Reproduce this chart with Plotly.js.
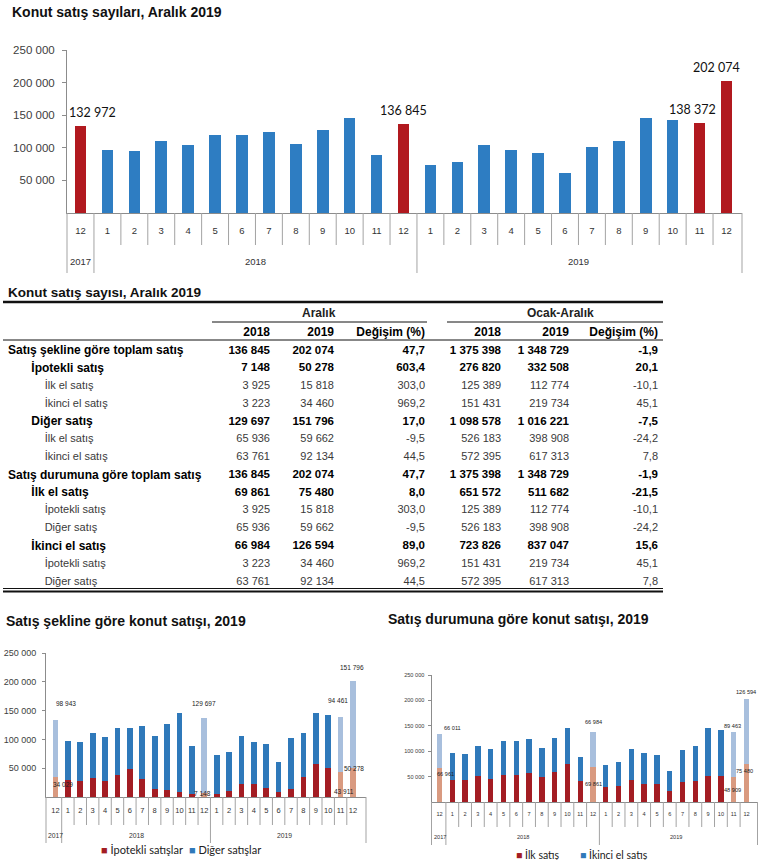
<!DOCTYPE html>
<html><head><meta charset="utf-8">
<script src="https://cdn.plot.ly/plotly-3.0.1.min.js"></script>
<style>html,body{margin:0;padding:0;background:#fff}</style>
</head><body><div id="chart" style="width:770px;height:860px"></div>
<script>
// ---------------- DATA ----------------
const periods = ['2017-12','2018-01','2018-02','2018-03','2018-04','2018-05','2018-06','2018-07','2018-08','2018-09','2018-10','2018-11','2018-12','2019-01','2019-02','2019-03','2019-04','2019-05','2019-06','2019-07','2019-08','2019-09','2019-10','2019-11','2019-12'];
const monthLabels = ['12','1','2','3','4','5','6','7','8','9','10','11','12','1','2','3','4','5','6','7','8','9','10','11','12'];
const totalSales = [132972, 96943, 95480, 110811, 103571, 120021, 119640, 123751, 105764, 126963, 146046, 89011, 136845, 73569, 78495, 105050, 96124, 92315, 61288, 101669, 110996, 146366, 142486, 138372, 202074];
const mortgagedSales = [34029, 28900, 27800, 33000, 27800, 37600, 49200, 31800, 13300, 11600, 8100, 5800, 7148, 5800, 9800, 23100, 23100, 15600, 8700, 14500, 34700, 57900, 50900, 43911, 50278];
const otherSales = [98943, 68043, 67680, 77811, 75771, 82421, 70440, 91951, 92464, 115363, 137946, 83211, 129697, 67769, 68695, 81950, 73024, 76715, 52588, 87169, 76296, 88466, 91586, 94461, 151796];
const firstHandSales = [66961, 42500, 42500, 50400, 45800, 53700, 53700, 56900, 49100, 58900, 74600, 40600, 69861, 29500, 32100, 43900, 36000, 35300, 22300, 39300, 41900, 51700, 50400, 48909, 75480];
const secondHandSales = [66011, 54443, 52980, 60411, 57771, 66321, 65940, 66851, 56664, 68063, 71446, 48411, 66984, 44069, 46395, 61150, 60124, 57015, 38988, 62369, 69096, 94666, 92086, 89463, 126594];
const highlightedPeriods = ['2017-12','2018-12','2019-11','2019-12'];
const yTickValues = [50000, 100000, 150000, 200000, 250000];

const tableRowLabels = ['Satış şekline göre toplam satış','İpotekli satış','İlk el satış','İkinci el satış','Diğer satış','İlk el satış','İkinci el satış','Satış durumuna göre toplam satış','İlk el satış','İpotekli satış','Diğer satış','İkinci el satış','İpotekli satış','Diğer satış'];
const dec2018 = [136845, 7148, 3925, 3223, 129697, 65936, 63761, 136845, 69861, 3925, 65936, 66984, 3223, 63761];
const dec2019 = [202074, 50278, 15818, 34460, 151796, 59662, 92134, 202074, 75480, 15818, 59662, 126594, 34460, 92134];
const decChange = [47.7, 603.4, 303.0, 969.2, 17.0, -9.5, 44.5, 47.7, 8.0, 303.0, -9.5, 89.0, 969.2, 44.5];
const ytd2018 = [1375398, 276820, 125389, 151431, 1098578, 526183, 572395, 1375398, 651572, 125389, 526183, 723826, 151431, 572395];
const ytd2019 = [1348729, 332508, 112774, 219734, 1016221, 398908, 617313, 1348729, 511682, 112774, 398908, 837047, 219734, 617313];
const ytdChange = [-1.9, 20.1, -10.1, 45.1, -7.5, -24.2, 7.8, -1.9, -21.5, -10.1, -24.2, 15.6, 45.1, 7.8];
const tableColumnHeaders = ['', '2018', '2019', 'Değişim (%)', '2018', '2019', 'Değişim (%)'];
const tableGroupHeaders = ['Aralık', 'Ocak-Aralık'];

const titles = {
  top: 'Konut satış sayıları, Aralık 2019',
  table: 'Konut satış sayısı, Aralık 2019',
  left: 'Satış şekline göre konut satışı, 2019',
  right: 'Satış durumuna göre konut satışı, 2019'
};
const legendNames = {mortgaged: 'İpotekli satışlar', other: 'Diğer satışlar', first: 'İlk satış', second: 'İkinci el satış'};

// ---------------- STYLE ----------------
const rowLevel = [0,1,2,2,1,2,2,0,1,2,2,1,2,2];
const W = 770, H = 860;
const X = p => p / W, Y = p => 1 - p / H;
const FONT = 'Liberation Sans, Arial, sans-serif';
const LFONT = 'Lato, Calibri, sans-serif';
const RED = '#B1191F', BLUE = '#2E7DC2';
const RED2 = '#A31D23', BLUE2 = '#2F79BA', SALMON = '#D99A80', LBLUE = '#A8BFDD';
const SEP = '#a3a3a3';
const NB = '\u00a0';

const fmtInt = n => String(n).replace(/\B(?=(\d{3})+(?!\d))/g, NB);
const fmtPct = v => v.toFixed(1).replace('.', ',');
const years = periods.map(p => p.slice(0, 4));

const shapes = [];
const annotations = [];

function separators(xref, axisPx, monthEndPx, yearEndPx) {
  const n = periods.length;
  for (let b = 0; b <= n; b++) {
    const isYear = b === 0 || b === n || years[b] !== years[b - 1];
    const edge = b === 0 || b === n;
    shapes.push({type: 'line', xref: edge ? xref + ' domain' : xref, yref: 'paper',
      x0: edge ? (b === 0 ? 0 : 1) : b - 0.5, x1: edge ? (b === 0 ? 0 : 1) : b - 0.5,
      y0: Y(axisPx), y1: Y(isYear ? yearEndPx : monthEndPx), line: {color: SEP, width: 1}});
  }
}
function yearLabels(xref, yPx, size) {
  [...new Set(years)].forEach(yr => {
    const idx = years.map((y, i) => y === yr ? i : -1).filter(i => i >= 0);
    annotations.push({xref, yref: 'paper', x: (idx[0] + idx[idx.length - 1]) / 2, y: Y(yPx),
      text: yr, showarrow: false, yanchor: 'middle', font: {family: FONT, size, color: '#333'}});
  });
}
function textAnn(text, xPx, yPx, size, opts) {
  annotations.push(Object.assign({xref: 'paper', yref: 'paper', x: X(xPx), y: Y(yPx), text, showarrow: false,
    xanchor: 'left', yanchor: 'middle', font: {family: FONT, size, color: '#111', weight: 'bold'}}, opts || {}));
}

// ---------------- TOP CHART ----------------
const traces = [];
traces.push({type: 'bar', x: periods, y: totalSales, xaxis: 'x', yaxis: 'y', width: 0.43,
  marker: {color: periods.map(p => highlightedPeriods.includes(p) ? RED : BLUE)}, hoverinfo: 'x+y'});
separators('x', 213, 245, 273);
yearLabels('x', 262, 9.5);
const topShift = {'2017-12': 12, '2018-12': 0, '2019-11': -7, '2019-12': -10};
highlightedPeriods.forEach(p => {
  const i = periods.indexOf(p);
  annotations.push({xref: 'x', yref: 'y', x: p, y: totalSales[i], text: fmtInt(totalSales[i]), showarrow: false,
    yanchor: 'middle', yshift: 13.5, xshift: topShift[p], font: {family: LFONT, size: 12.5, color: '#111'}});
});

// ---------------- BOTTOM LEFT ----------------
traces.push({type: 'bar', name: legendNames.mortgaged, x: periods, y: mortgagedSales, xaxis: 'x2', yaxis: 'y2', width: 0.46,
  marker: {color: periods.map(p => highlightedPeriods.includes(p) ? SALMON : RED2)}, showlegend: false});
traces.push({type: 'bar', name: legendNames.other, x: periods, y: otherSales, xaxis: 'x2', yaxis: 'y2', width: 0.46,
  marker: {color: periods.map(p => highlightedPeriods.includes(p) ? LBLUE : BLUE2)}, showlegend: false});
separators('x2', 797, 825, 843);
yearLabels('x2', 835, 6.8);
const leftUpper = {'2017-12': [10.6, 17.4], '2018-12': [0, 14.2], '2019-11': [-3, 17.3], '2019-12': [-1, 13.6]};
const leftLower = {'2017-12': [7.6, -6.6], '2018-12': [-2, -1], '2019-11': [3, -19.3], '2019-12': [1, 0]};

// ---------------- BOTTOM RIGHT ----------------
traces.push({type: 'bar', name: legendNames.first, x: periods, y: firstHandSales, xaxis: 'x3', yaxis: 'y3', width: 0.42,
  marker: {color: periods.map(p => highlightedPeriods.includes(p) ? SALMON : RED2)}, showlegend: false});
traces.push({type: 'bar', name: legendNames.second, x: periods, y: secondHandSales, xaxis: 'x3', yaxis: 'y3', width: 0.42,
  marker: {color: periods.map(p => highlightedPeriods.includes(p) ? LBLUE : BLUE2)}, showlegend: false});
separators('x3', 802, 827, 845);
yearLabels('x3', 837, 5.6);
const rightUpper = {'2017-12': [13, 6.5], '2018-12': [0, 10.5], '2019-11': [-1.5, 5.7], '2019-12': [-1, 7.3]};
const rightLower = {'2017-12': [5.5, -6], '2018-12': [0, -17.5], '2019-11': [-1.5, -12.8], '2019-12': [-2.5, -7.3]};

function stackLabels(xref, yref, lower, upper, upShift, lowShift, size) {
  highlightedPeriods.forEach(p => {
    const i = periods.indexOf(p);
    annotations.push({xref, yref, x: p, y: lower[i] + upper[i], text: fmtInt(upper[i]), showarrow: false,
      yanchor: 'middle', xshift: upShift[p][0], yshift: upShift[p][1], font: {family: FONT, size, color: '#222'}});
    annotations.push({xref, yref, x: p, y: lower[i], text: fmtInt(lower[i]), showarrow: false,
      yanchor: 'middle', xshift: lowShift[p][0], yshift: lowShift[p][1], font: {family: FONT, size, color: '#222'}});
  });
}
stackLabels('x2', 'y2', mortgagedSales, otherSales, leftUpper, leftLower, 6.5);
stackLabels('x3', 'y3', firstHandSales, secondHandSales, rightUpper, rightLower, 5.6);

// legends (as annotations)
const sq = c => '<span style="color:' + c + '">■</span>';
textAnn(sq(RED2) + ' ' + legendNames.mortgaged, 99, 849, 11, {font: {family: LFONT, size: 11, color: '#222'}});
textAnn(sq(BLUE2) + ' ' + legendNames.other, 187, 849, 11, {font: {family: LFONT, size: 11, color: '#222'}});
textAnn(sq(RED2) + ' ' + legendNames.first, 514, 854, 10.5, {font: {family: LFONT, size: 10.5, color: '#222'}});
textAnn(sq(BLUE2) + ' ' + legendNames.second, 578, 854, 10.5, {font: {family: LFONT, size: 10.5, color: '#222'}});

// titles
textAnn(titles.table, 6, 292, 13.5);
textAnn(titles.left, 4, 621, 14);
textAnn(titles.right, 386, 619, 14);

// ---------------- TABLE ----------------
const indent = l => l === 0 ? '' : NB.repeat(l === 1 ? 7 : 12);
const nb = s => s.replace(/ /g, NB);
const colValues = [
  tableRowLabels.map((s, r) => indent(rowLevel[r]) + nb(s)),
  dec2018.map(fmtInt), dec2019.map(fmtInt), decChange.map(fmtPct),
  ytd2018.map(fmtInt), ytd2019.map(fmtInt), ytdChange.map(fmtPct)
];
const isBold = rowLevel.map(l => l < 2);
traces.push({type: 'table',
  domain: {x: [0, X(666)], y: [Y(589), Y(319)]},
  columnwidth: [214, 64, 64, 91, 76, 68, 89],
  header: {values: tableColumnHeaders.map(h => [nb(h)]), height: 18,
    align: ['left', 'right', 'right', 'right', 'right', 'right', 'right'],
    font: {family: FONT, size: 12, color: '#000', weight: 'bold'},
    fill: {color: 'rgba(0,0,0,0)'}, line: {color: 'rgba(0,0,0,0)', width: 0}},
  cells: {values: colValues, height: 17.8,
    align: ['left', 'right', 'right', 'right', 'right', 'right', 'right'],
    font: {family: FONT,
      size: colValues.map((c, ci) => isBold.map(b => b ? (ci === 0 ? 12 : 11.5) : 11)),
      color: colValues.map(() => isBold.map(b => b ? '#000' : '#3a3a3a')),
      weight: colValues.map(() => isBold.map(b => b ? 'bold' : 'normal'))},
    fill: {color: 'rgba(0,0,0,0)'}, line: {color: 'rgba(0,0,0,0)', width: 0}}
});
tableGroupHeaders.forEach((g, k) => {
  textAnn(g, k === 0 ? 319 : 560, 313, 12, {xanchor: 'center', font: {family: FONT, size: 12, color: '#222', weight: 'bold'}});
});
const hline = (x0, x1, y, w) => shapes.push({type: 'line', xref: 'paper', yref: 'paper', x0: X(x0), x1: X(x1), y0: Y(y), y1: Y(y), line: {color: '#111', width: w}});
hline(3, 663, 302, 2.5);
hline(212, 427, 322, 1);
hline(447, 663, 322, 1);
hline(3, 663, 340, 1);
hline(3, 663, 588.5, 1);
hline(3, 663, 591.5, 2);

// ---------------- LAYOUT ----------------
function xAxis(dom, anchor, size, standoff) {
  return {domain: dom, anchor, type: 'category', categoryorder: 'array', categoryarray: periods,
    tickvals: periods, ticktext: monthLabels, ticks: '', showline: true, linecolor: '#8c8c8c', linewidth: 1,
    showgrid: false, zeroline: false, fixedrange: true, ticklabelstandoff: standoff,
    tickfont: {family: FONT, size, color: '#333'}};
}
function yAxis(dom, anchor, size, ticklen, standoff) {
  return {domain: dom, anchor, range: [0, 250000], tickvals: yTickValues, tickformat: ',',
    showline: true, linecolor: '#8c8c8c', linewidth: 1, ticks: 'outside', ticklen, tickcolor: '#8c8c8c',
    showgrid: false, zeroline: false, fixedrange: true, ticklabelstandoff: standoff,
    tickfont: {family: FONT, size, color: '#404040'}};
}
const layout = {
  width: W, height: H, margin: {l: 0, r: 0, t: 0, b: 0}, paper_bgcolor: '#fff', plot_bgcolor: '#fff',
  separators: ', ', barmode: 'stack', showlegend: false,
  title: {text: titles.top, x: X(12), xanchor: 'left', xref: 'paper', y: Y(12), yanchor: 'middle', yref: 'paper',
    font: {family: FONT, size: 14, color: '#111', weight: 'bold'}},
  xaxis: xAxis([X(67), X(742)], 'y', 9.5, 9),
  yaxis: yAxis([Y(213), Y(50)], 'x', 11.5, 4, 5),
  xaxis2: xAxis([X(46), X(366)], 'y2', 7.5, 6),
  yaxis2: yAxis([Y(797), Y(653)], 'x2', 9, 3, 4),
  xaxis3: xAxis([X(431.5), X(757.5)], 'y3', 5.6, 6),
  yaxis3: yAxis([Y(802), Y(675)], 'x3', 5.6, 3, 2),
  shapes, annotations
};
Plotly.newPlot('chart', traces, layout, {displayModeBar: false, staticPlot: true});
</script></body></html>
